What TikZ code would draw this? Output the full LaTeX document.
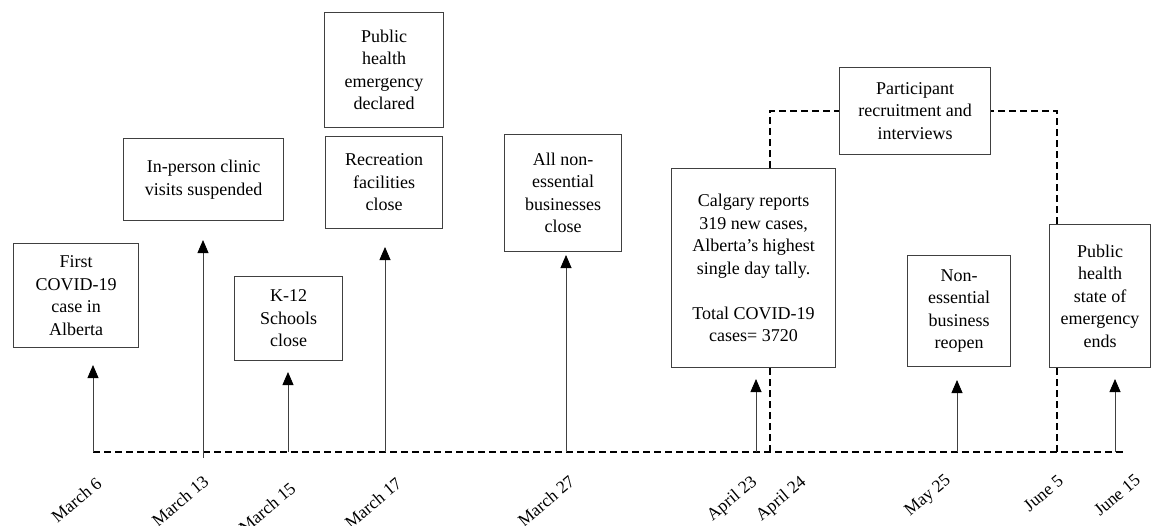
\documentclass[tikz,border=0pt]{standalone}
\usepackage{fontspec}
\setmainfont{Liberation Serif}
\newfontfamily\timesfont{Liberation Serif}
\usetikzlibrary{arrows.meta}

\tikzset{
  event/.style={draw=black!75, line width=1.1pt, align=center, inner sep=0pt,
    anchor=north west, font=\timesfont\fontsize{18}{22.5}\selectfont},
  tick/.style={draw=black!75, line width=0.8pt, -{Triangle[width=11pt,length=13pt,black]}},
  period/.style={line width=1.8pt, dash pattern=on 7pt off 4pt},
  datelabel/.style={rotate=40, anchor=north east, inner sep=0pt,
    font=\timesfont\fontsize{17.5}{20}\selectfont},
}

\begin{document}
\begin{tikzpicture}[x=1pt,y=-1pt]
\useasboundingbox (0,0) rectangle (1151,525);

% events
\node[event, minimum width=125, minimum height=104] (first) at (13,243) {First\\COVID-19\\case in\\Alberta};
\node[event, minimum width=160, minimum height=82] (clinic) at (123,138) {In-person clinic\\visits suspended};
\node[event, minimum width=108, minimum height=84] (school) at (234,276) {K-12\\Schools\\close};
\node[event, minimum width=119, minimum height=115] (declared) at (324,12) {Public\\health\\emergency\\declared};
\node[event, minimum width=117, minimum height=92] (recreation) at (325,136) {Recreation\\facilities\\close};
\node[event, minimum width=117, minimum height=117] (closed) at (504,134) {All non-\\essential\\businesses\\close};
\node[event, minimum width=164, minimum height=199] (calgary) at (671,168) {Calgary reports\\319 new cases,\\Alberta’s highest\\single day tally.\\[22.5pt]Total COVID-19\\cases= 3720};
\node[event, minimum width=151, minimum height=87] (study) at (839,67) {Participant\\recruitment and\\interviews};
\node[event, minimum width=103, minimum height=111] (reopen) at (907,255) {Non-\\essential\\business\\reopen};
\node[event, minimum width=101, minimum height=143] (ends) at (1049,224) {Public\\health\\state of\\emergency\\ends};

% timeline
\coordinate (start) at (93,452);
\coordinate (stop) at (1123,452);
\draw[period] (start) -- (stop);

% arrows up to the events
\foreach \x/\y/\tip/\name in {93/452/365/m6, 203/458/240/m13, 288/452/372/m15,
    385/452/247/m17, 566/452/255/m27, 756/452/379/a23, 957/452/380/y25, 1115/452/379/j15}
{
  \coordinate (\name) at (\x,\y);
  \coordinate (\name-top) at (\x,\tip);
  \draw[tick] (\name) -- (\name-top);
}

% study period
\coordinate (a24) at (770,452);
\coordinate (j5) at (1057,452);
\draw[period] (a24) -- (calgary.south -| a24);
\draw[period] (calgary.north -| a24) |- (study.west);
\draw[period] (j5) -- (ends.south -| j5);
\draw[period] (ends.north -| j5) |- (study.east);

% dates
\node[datelabel] (lm6) at (95,476) {March 6};
\node[datelabel] (lm13) at (202,474) {March 13};
\node[datelabel] (lm15) at (289,481) {March 15};
\node[datelabel] (lm17) at (395,476) {March 17};
\node[datelabel] (lm27) at (568,474) {March 27};
\node[datelabel] (la23) at (750,474) {April 23};
\node[datelabel] (la24) at (799,474) {April 24};
\node[datelabel] (ly25) at (944,473) {May 25};
\node[datelabel] (lj5) at (1057,474) {June 5};
\node[datelabel] (lj15) at (1134,473) {June 15};
\end{tikzpicture}
\end{document}
